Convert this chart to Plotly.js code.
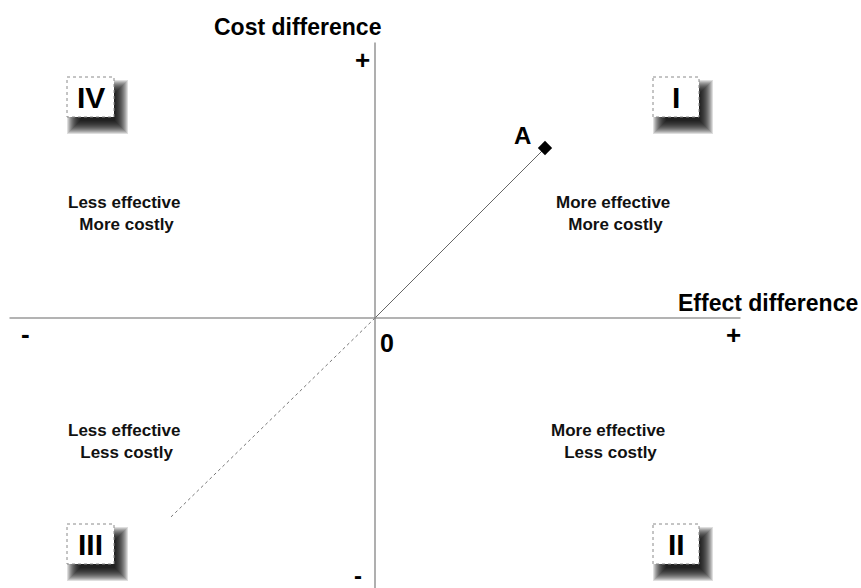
<!DOCTYPE html>
<html>
<head>
<meta charset="utf-8">
<script src="https://cdn.plot.ly/plotly-3.0.1.min.js"></script>
<style>html,body{margin:0;padding:0;background:#fff;}#chart{width:861px;height:588px;}</style>
</head>
<body>
<div id="chart"></div>
<script>
// ---- data ----
const pointNames = ['A'];
const effectDiff = [1.0];
const costDiff = [1.0];
const extEffect = [0, -1.2];
const extCost = [0, -1.17];
const quadrantNumerals = ['I', 'II', 'III', 'IV'];
const quadrantEffect = ['More effective', 'More effective', 'Less effective', 'Less effective'];
const quadrantCost = ['More costly', 'Less costly', 'Less costly', 'More costly'];
const axisTitleX = 'Effect difference';
const axisTitleY = 'Cost difference';

// ---- layout helpers ----
const W = 861, H = 588;
const px = x => x / W;
const py = y => 1 - y / H;
const FONT = 'Liberation Sans, Arial, Helvetica, sans-serif';

// quadrant box positions (pixels) and label centres
const boxPos = {
  'I':   [653, 77, 699, 117],
  'II':  [653, 524, 699, 564],
  'III': [67, 524, 114, 564],
  'IV':  [67, 77, 114, 117]
};
const labelPos = [[613, 213], [608, 441], [124, 441], [124, 213]];

const shapes = [];
const annotations = [];

// axes lines (data coordinates, origin at 0,0)
shapes.push({type: 'line', xref: 'x', yref: 'y', x0: -2.15, x1: 2.15, y0: 0, y1: 0,
  line: {color: '#9a9a9a', width: 1.6}});
shapes.push({type: 'line', xref: 'x', yref: 'y', x0: 0, x1: 0, y0: 1.62, y1: -1.6,
  line: {color: '#7a7a7a', width: 1.2}});

quadrantNumerals.forEach((q, i) => {
  const [x0, y0, x1, y1] = boxPos[q];
  const dx = 7, dy = 10, blur = 7, N = 14;
  for (let k = 0; k < N; k++) {
    const ins = k * (2 * blur) / N;
    shapes.push({type: 'rect', xref: 'paper', yref: 'paper',
      x0: px(x0 + dx - blur + ins), x1: px(x1 + dx + blur - ins),
      y0: py(y0 + dy - blur + ins), y1: py(y1 + dy + blur - ins),
      fillcolor: 'rgba(0,0,0,0.13)', line: {width: 0}});
  }
  shapes.push({type: 'rect', xref: 'paper', yref: 'paper',
    x0: px(x0), x1: px(x1), y0: py(y0), y1: py(y1),
    fillcolor: '#ffffff', line: {color: '#8a8a8a', width: 1, dash: 'dot'}});
  annotations.push({xref: 'paper', yref: 'paper', x: px((x0 + x1) / 2), y: py((y0 + y1) / 2),
    text: '<b>' + q + '</b>', showarrow: false, xanchor: 'center', yanchor: 'middle',
    font: {family: FONT, size: 30, color: '#000'}});
  annotations.push({xref: 'paper', yref: 'paper', x: px(labelPos[i][0]), y: py(labelPos[i][1]),
    text: '<b>' + quadrantEffect[i] + '<br> ' + quadrantCost[i] + '</b>', showarrow: false,
    xanchor: 'center', yanchor: 'middle', align: 'center',
    font: {family: FONT, size: 17, color: '#111'}});
});

// point labels
pointNames.forEach((n, i) => annotations.push({xref: 'x', yref: 'y', x: effectDiff[i], y: costDiff[i],
  text: '<b>' + n + '</b>', showarrow: false, xanchor: 'center', yanchor: 'middle',
  xshift: -23, yshift: 13, font: {family: FONT, size: 24, color: '#000'}}));

// axis titles and signs
annotations.push({xref: 'paper', yref: 'paper', x: px(297), y: py(27), text: '<b>' + axisTitleY + '</b>',
  showarrow: false, xanchor: 'center', yanchor: 'middle', font: {family: FONT, size: 23, color: '#000'}});
annotations.push({xref: 'paper', yref: 'paper', x: px(768), y: py(303), text: '<b>' + axisTitleX + '</b>',
  showarrow: false, xanchor: 'center', yanchor: 'middle', font: {family: FONT, size: 23, color: '#000'}});
const signs = [['+', 362, 60, 26], ['+', 733, 335, 26], ['-', 25, 334, 26], ['-', 358, 575, 24], ['0', 387, 343, 25]];
signs.forEach(s => annotations.push({xref: 'paper', yref: 'paper', x: px(s[1]), y: py(s[2]),
  text: '<b>' + s[0] + '</b>', showarrow: false, xanchor: 'center', yanchor: 'middle',
  font: {family: FONT, size: s[3], color: '#000'}}));

const traces = [
  {x: extEffect, y: extCost, mode: 'lines', line: {color: '#777', width: 1, dash: 'dot'}, hoverinfo: 'skip'},
  {x: [0].concat(effectDiff), y: [0].concat(costDiff), mode: 'lines', line: {color: '#666', width: 1}, hoverinfo: 'skip'},
  {x: effectDiff, y: costDiff, mode: 'markers',
   marker: {symbol: 'diamond', size: 11, color: '#000'}}
];

const layout = {
  width: W, height: H,
  margin: {l: 0, r: 0, t: 0, b: 0},
  paper_bgcolor: '#fff', plot_bgcolor: '#fff',
  showlegend: false,
  xaxis: {range: [-375 / 170, 486 / 170], visible: false, fixedrange: true},
  yaxis: {range: [-270 / 170, 318 / 170], visible: false, fixedrange: true},
  shapes: shapes,
  annotations: annotations
};

Plotly.newPlot('chart', traces, layout, {displayModeBar: false, staticPlot: true});
</script>
</body>
</html>
